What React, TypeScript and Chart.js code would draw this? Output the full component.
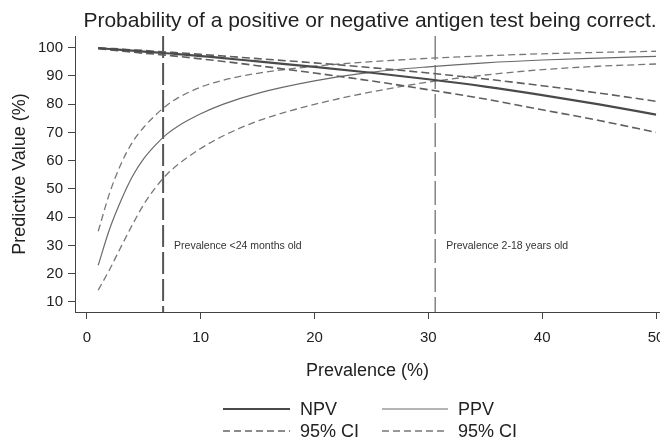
import { useEffect, useRef } from "react";
import { Chart, registerables } from "chart.js";

Chart.register(...registerables);

const prevalence = [1, 2, 3, 4, 5, 6, 7, 8, 10, 12, 15, 20, 25, 30, 35, 40, 45, 50];
const npv = [99.8, 99.5, 99.2, 98.9, 98.6, 98.3, 98.0, 97.7, 97.0, 96.3, 95.1, 93.2, 91.1, 88.8, 86.2, 83.2, 79.9, 76.3];
const npvUpper = [99.9, 99.7, 99.5, 99.2, 99.0, 98.7, 98.4, 98.2, 97.6, 97.0, 96.1, 94.6, 92.9, 91.0, 88.9, 86.5, 83.9, 81.0];
const npvLower = [99.6, 99.2, 98.8, 98.4, 98.0, 97.7, 97.3, 96.9, 96.0, 95.1, 93.6, 91.0, 88.2, 85.1, 81.8, 78.0, 74.2, 70.0];
const ppv = [23.0, 35.8, 45.9, 54.4, 60.7, 65.4, 69.3, 72.2, 76.6, 80.0, 83.8, 88.2, 91.3, 93.2, 94.6, 95.6, 96.3, 96.9];
const ppvUpper = [35.0, 48.5, 58.8, 66.5, 71.8, 76.0, 79.5, 82.2, 86.0, 88.5, 90.9, 93.4, 95.0, 96.2, 97.1, 97.8, 98.3, 98.7];
const ppvLower = [14.2, 21.5, 29.5, 37.3, 44.5, 50.3, 55.0, 58.6, 64.3, 68.8, 74.0, 79.9, 84.3, 87.8, 90.3, 92.2, 93.4, 94.2];

const xTicks = [0, 10, 20, 30, 40, 50];
const yTicks = [10, 20, 30, 40, 50, 60, 70, 80, 90, 100];

const refLines = [6.7, 30.6];
const refLabels = ["Prevalence <24 months old", "Prevalence 2-18 years old"];

const titleText = "Probability of a positive or negative antigen test being correct.";
const legendLabels = ["NPV", "PPV", "95% CI", "95% CI"];

const FONT = "'Liberation Sans', Arial, Helvetica, sans-serif";

const pts = (vals: number[]) => prevalence.map((x, i) => ({ x, y: vals[i] }));

export default function App() {
  const ref = useRef<HTMLCanvasElement | null>(null);

  useEffect(() => {
    if (!ref.current) return;

    const overlay = {
      id: "overlay",
      beforeDatasetsDraw(chart: any) {
        const { ctx, chartArea, scales } = chart;
        ctx.save();
        refLines.forEach((v, i) => {
          const px = scales.x.getPixelForValue(v);
          ctx.beginPath();
          ctx.strokeStyle = i === 0 ? "#555" : "#666";
          ctx.lineWidth = i === 0 ? 2 : 1.2;
          ctx.setLineDash(i === 0 ? [22, 5] : [24, 5]);
          ctx.moveTo(px, chartArea.top);
          ctx.lineTo(px, chartArea.bottom);
          ctx.stroke();
        });
        ctx.setLineDash([]);
        ctx.fillStyle = "#333";
        ctx.font = `10.5px ${FONT}`;
        ctx.textBaseline = "middle";
        ctx.textAlign = "left";
        refLines.forEach((v, i) => {
          const px = scales.x.getPixelForValue(v);
          ctx.fillText(refLabels[i], px + 11, scales.y.getPixelForValue(29.6));
        });
        ctx.restore();
      },
      afterDraw(chart: any) {
        const { ctx } = chart;
        ctx.save();
        ctx.fillStyle = "#222";
        ctx.font = `21px ${FONT}`;
        ctx.textAlign = "center";
        ctx.textBaseline = "middle";
        ctx.fillText(titleText, 370, 21);
        const rows = [409, 431];
        const cols = [[223, 290, 300], [382, 448, 458]];
        const styles = [
          { w: 2.2, c: "#4a4a4a", d: [] as number[] },
          { w: 1.2, c: "#6a6a6a", d: [] as number[] },
          { w: 1.3, c: "#666", d: [7, 4] },
          { w: 1.3, c: "#777", d: [7, 4] },
        ];
        ctx.font = `18px ${FONT}`;
        ctx.textAlign = "left";
        for (let i = 0; i < 4; i++) {
          const r = rows[Math.floor(i / 2)];
          const c = cols[i % 2];
          const s = styles[i];
          ctx.beginPath();
          ctx.strokeStyle = s.c;
          ctx.lineWidth = s.w;
          ctx.setLineDash(s.d);
          ctx.moveTo(c[0], r);
          ctx.lineTo(c[1], r);
          ctx.stroke();
          ctx.setLineDash([]);
          ctx.fillStyle = "#222";
          ctx.fillText(legendLabels[i], c[2], r + 1);
        }
        ctx.restore();
      },
    };

    const common = { pointRadius: 0, fill: false, cubicInterpolationMode: "monotone" as const };

    const chart = new Chart(ref.current, {
      type: "line",
      data: {
        datasets: [
          { ...common, label: "NPV", data: pts(npv), borderColor: "#4a4a4a", borderWidth: 2.2 },
          { ...common, label: "NPV upper", data: pts(npvUpper), borderColor: "#5e5e5e", borderWidth: 1.6, borderDash: [8, 4] },
          { ...common, label: "NPV lower", data: pts(npvLower), borderColor: "#5e5e5e", borderWidth: 1.6, borderDash: [8, 4] },
          { ...common, label: "PPV", data: pts(ppv), borderColor: "#6a6a6a", borderWidth: 1.2 },
          { ...common, label: "PPV upper", data: pts(ppvUpper), borderColor: "#777", borderWidth: 1.3, borderDash: [7, 4] },
          { ...common, label: "PPV lower", data: pts(ppvLower), borderColor: "#777", borderWidth: 1.3, borderDash: [7, 4] },
        ],
      },
      options: {
        animation: false,
        responsive: false,
        maintainAspectRatio: false,
        layout: { padding: { top: 36, left: 0, right: 20, bottom: 58 } },
        plugins: { legend: { display: false }, title: { display: false }, tooltip: { enabled: false } },
        scales: {
          x: {
            type: "linear",
            min: -1.04,
            max: 50.35,
            afterBuildTicks: (s: any) => { s.ticks = xTicks.map((v) => ({ value: v })); },
            afterFit: (s: any) => { s.height = 70; },
            grid: { display: true, drawOnChartArea: false, drawTicks: true, tickLength: 7, color: "#444", tickColor: "#444" },
            border: { display: true, color: "#444", width: 1 },
            ticks: { color: "#222", font: { family: FONT, size: 15 }, padding: 10, maxRotation: 0 },
            title: { display: true, text: "Prevalence (%)", color: "#222", font: { family: FONT, size: 18 }, padding: { top: 0, bottom: 0 } },
          },
          y: {
            type: "linear",
            min: 6.45,
            max: 104.1,
            afterBuildTicks: (s: any) => { s.ticks = yTicks.map((v) => ({ value: v })); },
            afterFit: (s: any) => { s.width = 75; },
            grid: { display: true, drawOnChartArea: false, drawTicks: true, tickLength: 7, color: "#444", tickColor: "#444" },
            border: { display: true, color: "#444", width: 1 },
            ticks: { color: "#222", font: { family: FONT, size: 15 }, padding: 5 },
            title: { display: true, text: "Predictive Value (%)", color: "#222", font: { family: FONT, size: 18 }, padding: { top: 9, bottom: 0 } },
          },
        },
      },
      plugins: [overlay],
    });

    return () => chart.destroy();
  }, []);

  return (
    <div style={{ position: "fixed", left: 0, top: 0, width: 660, height: 440, overflow: "hidden", background: "#fff" }}>
      <canvas ref={ref} width={680} height={440} style={{ display: "block", width: 680, height: 440 }} />
    </div>
  );
}
